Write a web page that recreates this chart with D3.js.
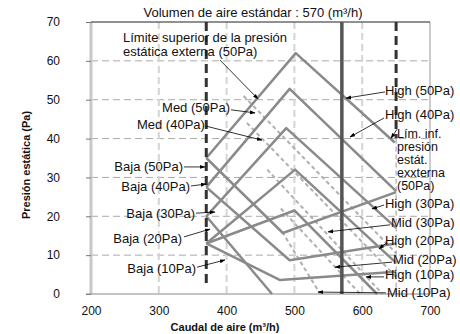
<!DOCTYPE html>
<html><head><meta charset="utf-8">
<script src="https://cdn.jsdelivr.net/npm/d3@7"></script>
<style>
body{margin:0;background:#fff;}
svg text{font-family:"Liberation Sans",Arial,sans-serif;fill:#111;}
</style></head>
<body><svg id="c" width="460" height="334"></svg>
<script>
// ---- data ----
const xTicks = [200,300,400,500,600,700];
const yTicks = [0,10,20,30,40,50,60,70];
const refFlows = [370,570,650];            // dashed min, standard 570, dashed limit
const standardFlow = 570;

// solid curves (flow, pressure)
const solidFlows = [
  [370,502,648],[370,493,650],[370,488,650],[370,501,650],[370,500,622],
  [370,483,650],[370,493,650],[370,479,650],[370,467]
];
const solidPressures = [
  [35,62,39],[27.5,52.8,26.5],[20,42.7,17],[13,32,8],[13,21.5,0],
  [35,15.7,26.2],[27.5,8.7,13],[13,3.6,5.7],[20,0]
];
// dashed "Med/Mid" curves
const midFlows = [[425,650],[430,650],[460,630],[480,597],[482,538]];
const midPressures = [[51,10.5],[44,4.4],[32,0],[22,0],[16,0]];

// annotations: label, text anchor flow/pressure, arrow start, arrow end
const annLabels = ["Med (50Pa)","Med (40Pa)","Baja (50Pa)","Baja (40Pa)","Baja (30Pa)","Baja (20Pa)","Baja (10Pa)",
  "High (50Pa)","High (40Pa)","High (30Pa)","Mid (30Pa)","High (20Pa)","Mid (20Pa)","High (10Pa)","Mid (10Pa)"];
const annAnchor = ["end","end","end","end","end","end","end","start","start","start","start","start","start","start","start"];
const annText = [[405,48.1],[368,43.75],[335.7,32.7],[346,27.8],[353.4,20.8],[334.2,14.2],[354.9,6.7],
  [633.6,52.5],[633.6,46.1],[633.6,23.4],[642.5,18.3],[633.6,13.9],[645.4,9],[633.6,5.1],[636.6,0.5]];
const annFrom = [[406.5,47.4],[369.6,43.2],[337.2,32.7],[347.5,27.8],[354.9,20.8],[337.2,14.7],[356.3,6.9],
  [633.6,52],[632.2,45.3],[632.2,22.9],[641,17.8],[636,13.2],[644,8.2],[632.2,4.4],[635,0.3]];
const annTo = [[441.9,46.6],[452.2,39.6],[368.1,32.7],[369.6,28.3],[382.9,21.1],[375.5,16.7],[397.6,8.75],
  [576.1,50.4],[582,40.4],[614.5,21.9],[549.6,16],[624.8,11.6],[559.9,6.9],[605.6,4.4],[534.8,0.5]];

const upperLabel = ["Límite superior de la presión","estática externa (50Pa)"];
const upperText = [247.2,65.9];
const upperFrom = [390.3,60.2], upperTo = [446.3,50.2];
const lowerLabel = ["Lím. inf.","presión","estát.","exxterna","(50Pa)"];
const lowerText = [651.3,41.4];
const lowerFrom = [651.3,42.4], lowerTo = [642.5,40.1];

// ---- drawing ----
const svg = d3.select("#c");
const x = d3.scaleLinear().domain([200,700]).range([91,430]);
const y = d3.scaleLinear().domain([0,70]).range([294,22]);
const lh = 13/3.886*1.0; // line height in data units (~13px)

svg.append("defs").append("marker").attr("id","ah").attr("viewBox","0 0 10 10")
  .attr("refX",9).attr("refY",5).attr("markerWidth",7).attr("markerHeight",7)
  .attr("orient","auto").append("path").attr("d","M0,1.5L10,5L0,8.5Z").attr("fill","#000");

// horizontal grid
svg.append("g").selectAll("line").data(yTicks.filter(d=>d>0&&d<70)).join("line")
  .attr("x1",x(200)).attr("x2",x(700)).attr("y1",d=>y(d)).attr("y2",d=>y(d))
  .attr("stroke","#aaa").attr("stroke-width",1).attr("stroke-dasharray","7,4");
// vertical grid
svg.append("g").selectAll("line").data([300,400,500,600]).join("line")
  .attr("x1",d=>x(d)).attr("x2",d=>x(d)).attr("y1",y(70)).attr("y2",y(0))
  .attr("stroke","#d4d4d4").attr("stroke-width",2).attr("stroke-dasharray","7,4");
// left border
svg.append("line").attr("x1",x(200)).attr("x2",x(200)).attr("y1",y(70)).attr("y2",y(0))
  .attr("stroke","#c8c8c8").attr("stroke-width",3);
// right border
svg.append("line").attr("x1",x(700)).attr("x2",x(700)).attr("y1",y(70)).attr("y2",y(0))
  .attr("stroke","#999").attr("stroke-width",1);
// top border
svg.append("line").attr("x1",x(200)).attr("x2",x(700)).attr("y1",y(70)).attr("y2",y(70))
  .attr("stroke","#222").attr("stroke-width",1);

// y axis
const ya = svg.append("g").attr("transform",`translate(${x(200)-0},0)`)
  .call(d3.axisLeft(y).tickValues(yTicks).tickSize(5).tickPadding(26));
ya.select(".domain").remove();
ya.selectAll("line").attr("stroke","#777");
ya.selectAll("text").attr("font-size",12).style("font-family","Liberation Sans, Arial");
// x axis
const xa = svg.append("g").attr("transform",`translate(0,${y(0)})`)
  .call(d3.axisBottom(x).tickValues(xTicks).tickSize(0).tickPadding(12));
xa.select(".domain").attr("stroke","#888").attr("d",`M${x(200)-5},0H${x(700)}`);
xa.selectAll("text").attr("font-size",12).style("font-family","Liberation Sans, Arial");

const line = d3.line().x(d=>x(d[0])).y(d=>y(d[1]));
const toPts = (fs,ps)=>fs.map((f,i)=>[f,ps[i]]);

// dashed mid curves
svg.append("g").selectAll("path").data(midFlows.map((f,i)=>toPts(f,midPressures[i]))).join("path")
  .attr("d",line).attr("fill","none").attr("stroke","#b0b0b0").attr("stroke-width",2)
  .attr("stroke-dasharray","4,3");
// solid curves
svg.append("g").selectAll("path").data(solidFlows.map((f,i)=>toPts(f,solidPressures[i]))).join("path")
  .attr("d",line).attr("fill","none").attr("stroke","#8a8a8a").attr("stroke-width",2.5)
  .attr("stroke-linejoin","round");

// reference verticals
svg.append("line").attr("x1",x(refFlows[0])).attr("x2",x(refFlows[0])).attr("y1",y(70)).attr("y2",y(2.3))
  .attr("stroke","#333").attr("stroke-width",3).attr("stroke-dasharray","9,5");
svg.append("line").attr("x1",x(refFlows[2])).attr("x2",x(refFlows[2])).attr("y1",y(70)).attr("y2",y(40))
  .attr("stroke","#333").attr("stroke-width",3).attr("stroke-dasharray","9,5");
svg.append("line").attr("x1",x(refFlows[2])).attr("x2",x(refFlows[2])).attr("y1",y(40)).attr("y2",y(0))
  .attr("stroke","#999").attr("stroke-width",1).attr("stroke-dasharray","5,3");
svg.append("line").attr("x1",x(standardFlow)).attr("x2",x(standardFlow)).attr("y1",y(70)).attr("y2",y(0))
  .attr("stroke","#555").attr("stroke-width",3.5);

// annotations
const ag = svg.append("g");
annLabels.forEach((t,i)=>{
  ag.append("line").attr("x1",x(annFrom[i][0])).attr("y1",y(annFrom[i][1]))
    .attr("x2",x(annTo[i][0])).attr("y2",y(annTo[i][1]))
    .attr("stroke","#000").attr("stroke-width",0.8).attr("marker-end","url(#ah)");
  ag.append("text").attr("x",x(annText[i][0])).attr("y",y(annText[i][1])).attr("dy","0.35em")
    .attr("text-anchor",annAnchor[i]).attr("font-size",13).text(t);
});
ag.append("line").attr("x1",x(upperFrom[0])).attr("y1",y(upperFrom[1]))
  .attr("x2",x(upperTo[0])).attr("y2",y(upperTo[1]))
  .attr("stroke","#000").attr("stroke-width",0.8).attr("marker-end","url(#ah)");
upperLabel.forEach((t,i)=>{
  ag.append("text").attr("x",x(upperText[0])).attr("y",y(upperText[1])+i*14).attr("dy","0.35em")
    .attr("font-size",13).text(t);
});
ag.append("line").attr("x1",x(lowerFrom[0])).attr("y1",y(lowerFrom[1]))
  .attr("x2",x(lowerTo[0])).attr("y2",y(lowerTo[1]))
  .attr("stroke","#000").attr("stroke-width",0.8).attr("marker-end","url(#ah)");
lowerLabel.forEach((t,i)=>{
  ag.append("text").attr("x",x(lowerText[0])).attr("y",y(lowerText[1])+i*13).attr("dy","0.35em")
    .attr("font-size",12.5).text(t);
});

// titles
svg.append("text").attr("x",253).attr("y",17).attr("text-anchor","middle").attr("font-size",13)
  .text("Volumen de aire estándar : 570 (m³/h)");
svg.append("text").attr("x",225).attr("y",331).attr("text-anchor","middle").attr("font-size",11)
  .attr("font-weight","bold").text("Caudal de aire (m³/h)");
svg.append("text").attr("transform","translate(30,165) rotate(-90)").attr("text-anchor","middle")
  .attr("font-size",11).attr("font-weight","bold").text("Presión estática (Pa)");
</script></body></html>
